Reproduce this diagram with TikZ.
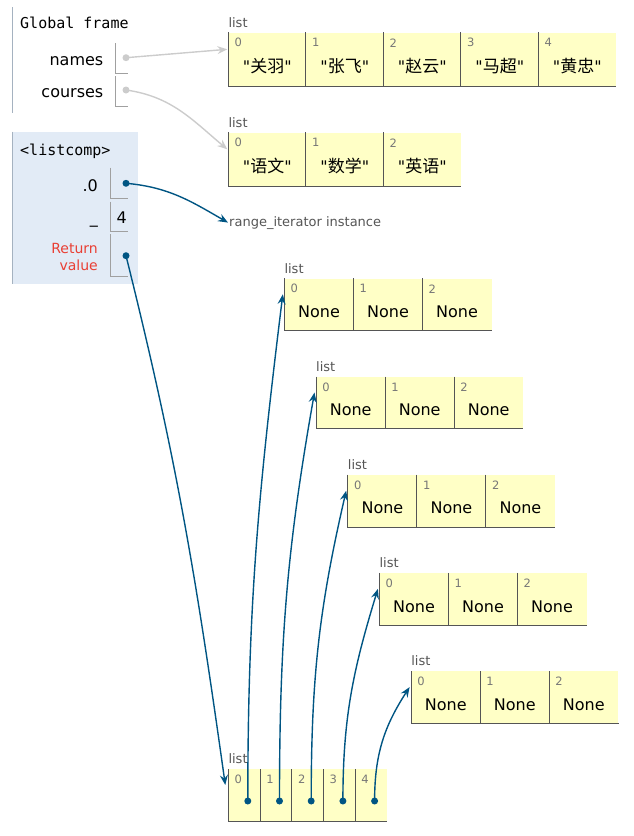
\documentclass[tikz,border=0pt]{standalone}
\usepackage{fontspec}
\setmainfont{DejaVu Sans}[Ligatures=TeXOff]
\newfontfamily\framefont{DejaVu Sans Mono}
\newfontfamily\cjk{Noto Sans CJK SC}
\usetikzlibrary{arrows.meta,calc}

\definecolor{ptrblue}{HTML}{005583}
\definecolor{ptrgray}{HTML}{CCCCCC}
\definecolor{listfill}{HTML}{FFFFC6}
\definecolor{listline}{HTML}{555555}
\definecolor{idxgray}{HTML}{777777}
\definecolor{framebg}{HTML}{E2EBF6}
\definecolor{framebar}{HTML}{A5B2C0}
\definecolor{varline}{HTML}{A0A0A0}
\definecolor{retred}{HTML}{E93F34}

\begin{document}
\begin{tikzpicture}[x=1pt, y=1pt,
    cell/.style={fill=listfill, inner sep=0pt, anchor=north west},
    strcell/.style={cell, minimum width=77.5pt, minimum height=54pt},
    nonecell/.style={cell, minimum width=69pt, minimum height=52pt},
    refcell/.style={cell, minimum width=31.7pt, minimum height=52pt},
    cellborder/.style={draw=listline, line width=1pt},
    typelbl/.style={anchor=west, inner sep=0pt, text=listline, font=\fontsize{13}{13}\selectfont},
    idx/.style={inner sep=0pt, text=idxgray, font=\fontsize{11.5}{11.5}\selectfont},
    val/.style={inner sep=0pt, font=\fontsize{16}{16}\selectfont},
    varname/.style={anchor=base east, inner sep=0pt, font=\fontsize{16}{16}\selectfont},
    framehead/.style={anchor=base west, inner sep=0pt, font=\framefont\fontsize{15}{15}\selectfont},
    varcell/.style={draw=varline, line width=1pt},
    ptrdot/.style={circle, inner sep=0pt, minimum size=7pt},
    ptr/.style={draw=ptrblue, line width=1.4pt, -{Stealth[length=10pt, width=8pt, inset=3.5pt]}},
  ]
  \useasboundingbox (0,0) rectangle (634,-836);

  % Global frame
  \draw[framebar, line width=1pt] (12.7,-7) -- (12.7,-113);
  \node[framehead] (gframe) at (20,-28.7) {Global frame};
  \node[varname] (names) at (103.5,-65) {names};
  \draw[varcell] (115,-43) -- (115,-73) -- (127.7,-73);
  \node[ptrdot, fill=ptrgray] (names-ref) at (126,-57.7) {};
  \node[varname] (courses) at (103.5,-97.7) {courses};
  \draw[varcell] (115,-76) -- (115,-106) -- (127.7,-106);
  \node[ptrdot, fill=ptrgray] (courses-ref) at (126,-90) {};

  % <listcomp> frame
  \fill[framebg] (12.7,-131.7) rectangle (137.7,-284);
  \draw[framebar, line width=1pt] (12.7,-131.7) -- (12.7,-284);
  \node[framehead] (lcframe) at (20,-155) {<listcomp>};
  \node[varname] (iter) at (98,-191) {.0};
  \draw[varcell] (110.7,-167.7) -- (110.7,-198.3) -- (127.7,-198.3);
  \node[ptrdot, fill=ptrblue] (iter-ref) at (126,-183.3) {};
  \node[varname] (under) at (98,-223.3) {\_};
  \draw[varcell] (110.7,-201.7) -- (110.7,-231) -- (127.7,-231);
  \node[val] (under-val) at (121.7,-217.7) {4};
  \node[anchor=east, inner sep=0pt, align=right, text=retred, font=\fontsize{14}{17.4}\selectfont] (ret) at (98,-256.7) {Return\\value};
  \draw[varcell] (110.7,-234.3) -- (110.7,-276.7) -- (127.7,-276.7);
  \node[ptrdot, fill=ptrblue] (ret-ref) at (126,-255.7) {};

  % names list
  \node[typelbl] (names-lbl) at (228.3,-22.3) {list};
  \foreach \s [count=\i from 0] in {关羽,张飞,赵云,马超,黄忠} {
    \node[strcell] (names-\i) at (228.3+77.5*\i,-32.3) {};
    \draw[cellborder] (names-\i.north west) -- (names-\i.south west) -- (names-\i.south east);
    \node[idx] (names-\i-idx) at ($(names-\i.north west)+(10,-10.5)$) {\i};
    \node[val] (names-\i-val) at ($(names-\i.north)+(0,-34)$) {"{\cjk\fontsize{17}{17}\selectfont\s}"};
  }

  % courses list
  \node[typelbl] (courses-lbl) at (228.3,-122.3) {list};
  \foreach \s [count=\i from 0] in {语文,数学,英语} {
    \node[strcell] (courses-\i) at (228.3+77.5*\i,-132.3) {};
    \draw[cellborder] (courses-\i.north west) -- (courses-\i.south west) -- (courses-\i.south east);
    \node[idx] (courses-\i-idx) at ($(courses-\i.north west)+(10,-10.5)$) {\i};
    \node[val] (courses-\i-val) at ($(courses-\i.north)+(0,-34)$) {"{\cjk\fontsize{17}{17}\selectfont\s}"};
  }

  \node[anchor=base west, inner sep=1pt, text=listline, font=\fontsize{13}{13}\selectfont] (rangeit) at (228,-226) {range\_iterator instance};

  % five lists of None
  \foreach \k in {0,...,4} {
    \coordinate (row\k) at (284.3+31.7*\k,-278.3-98.2*\k);
    \node[typelbl] (row\k-lbl) at ($(row\k)+(0,10)$) {list};
    \foreach \j in {0,1,2} {
      \node[nonecell] (row\k-\j) at ($(row\k)+(69*\j,0)$) {};
      \draw[cellborder] (row\k-\j.north west) -- (row\k-\j.south west) -- (row\k-\j.south east);
      \node[idx] (row\k-\j-idx) at ($(row\k-\j.north west)+(10,-10.5)$) {\j};
      \node[val] (row\k-\j-val) at ($(row\k-\j.north)+(0,-33.5)$) {None};
    }
  }

  % returned list
  \node[typelbl] (refs-lbl) at (228.3,-759) {list};
  \foreach \j in {0,...,4} {
    \node[refcell] (refs-\j) at (228.3+31.7*\j,-769) {};
    \draw[cellborder] (refs-\j.north west) -- (refs-\j.south west) -- (refs-\j.south east);
    \node[idx] (refs-\j-idx) at ($(refs-\j.north west)+(10,-10.5)$) {\j};
    \node[ptrdot, fill=ptrblue] (refs-\j-ref) at ($(refs-\j.north west)+(19.5,-32)$) {};
  }

  % pointers
  \draw[ptr, draw=ptrgray] (names-ref.center) -- ([xshift=-1pt,yshift=-17pt]names-0.north west);
  \draw[ptr, draw=ptrgray] (courses-ref.center) to[out=-8, in=140] ([xshift=-1pt,yshift=-17pt]courses-0.north west);
  \draw[ptr] (iter-ref.center) to[out=-5, in=150] (rangeit.west);
  \draw[ptr] (ret-ref.center) to[out=-76, in=98] ([xshift=-3pt,yshift=-16pt]refs-0.north west);
  \foreach \j/\a in {0/-97,1/-100,2/-103,3/-107,4/-123}
    \draw[ptr] (refs-\j-ref.center) to[out=90, in=\a] ([xshift=-1.5pt,yshift=-16pt]row\j-0.north west);
\end{tikzpicture}
\end{document}
